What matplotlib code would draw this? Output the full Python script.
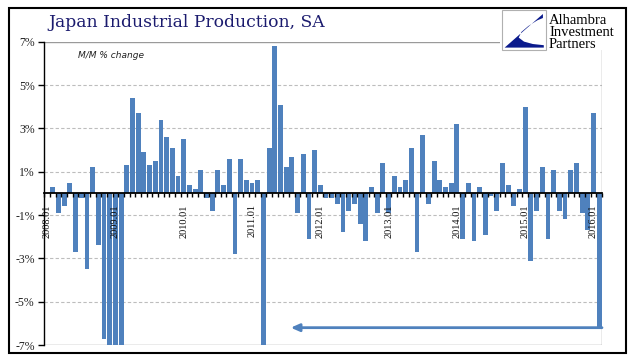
import matplotlib.pyplot as plt
from matplotlib.patches import Rectangle, Polygon
import numpy as np

# monthly m/m % change, 2008.01 - 2016.02 (first month has no value)
months = [f"{y}.{m:02d}" for y in range(2008, 2017) for m in range(1, 13)][:98]
values = [
    np.nan, 0.3, -0.9, -0.6, 0.5, -2.7, -0.2, -3.5, 1.2, -2.4, -6.7, -8.5,
    -10.2, -9.4, 1.3, 4.4, 3.7, 1.9, 1.3, 1.5, 3.4, 2.6, 2.1, 0.8,
    2.5, 0.4, 0.2, 1.1, -0.2, -0.8, 1.1, 0.4, 1.6, -2.8, 1.6, 0.6,
    0.5, 0.6, -15.5, 2.1, 6.8, 4.1, 1.2, 1.7, -0.9, 1.8, -2.1, 2.0,
    0.4, -0.2, -0.2, -0.5, -1.8, -0.8, -0.5, -1.4, -2.2, 0.3, -0.9, 1.4,
    -0.9, 0.8, 0.3, 0.6, 2.1, -2.7, 2.7, -0.5, 1.5, 0.6, 0.3, 0.5,
    3.2, -2.1, 0.5, -2.2, 0.3, -1.9, -0.1, -0.8, 1.4, 0.4, -0.6, 0.2,
    4.0, -3.1, -0.8, 1.2, -2.1, 1.1, -0.8, -1.2, 1.1, 1.4, -0.9, -1.7,
    3.7, -6.2,
]
y_ticks = [-7, -5, -3, -1, 1, 3, 5, 7]
label_every = 12

BLUE = '#4F81BD'
NAVY = '#1B1B6E'
W, H = 641, 361


def px(x, y):
    # pixel position (from top left) -> figure fraction
    return x / W, 1 - y / H


fig = plt.figure(figsize=(W / 100, H / 100), dpi=100)
ax = fig.add_axes([44.3 / W, 1 - 345 / H, (602 - 44.3) / W, (345 - 41.7) / H])

x = np.arange(len(values))
ax.bar(x, values, width=0.85, color=BLUE, zorder=1)

ax.set_xlim(-0.5, len(values) - 0.5)
ax.set_ylim(-7, 7)

# dashed grid behind the bars, solid grey frame at +-7
for v in y_ticks[1:-1]:
    ax.axhline(v, color='#BDBDBD', lw=0.8, ls=(0, (3, 2)), zorder=0)
for v in (y_ticks[0], y_ticks[-1]):
    ax.axhline(v, color='#9A9A9A', lw=1, zorder=0.5)
ax.axvline(len(values) - 0.5, color='#9A9A9A', lw=1, zorder=0.5)

for s in ('top', 'right'):
    ax.spines[s].set_visible(False)
ax.spines['left'].set_color('black')
ax.spines['left'].set_linewidth(1.0)
ax.spines['bottom'].set_position(('data', 0))
ax.spines['bottom'].set_color('black')
ax.spines['bottom'].set_linewidth(1.3)

ax.set_yticks(y_ticks)
ax.set_yticklabels([f"{v}%" for v in y_ticks], fontfamily='Liberation Serif',
                   fontsize=8.5, color='#222222')
ax.tick_params(axis='y', direction='out', length=4, width=1, color='black', pad=3)

lab_pos = x[::label_every]
ax.set_xticks(lab_pos)
ax.set_xticklabels(months[::label_every], rotation=90, fontfamily='Liberation Serif',
                   fontsize=7.5, color='#111111')
ax.tick_params(axis='x', which='major', length=0, pad=8)
ax.set_xticks(np.arange(len(values) + 1) - 0.5, minor=True)
ax.tick_params(axis='x', which='minor', direction='out', length=3, width=1, color='black')

ax.annotate('', xy=(42.8, values[-1]), xytext=(len(values) - 0.5, values[-1]),
            arrowprops=dict(arrowstyle='-|>,head_length=0.5,head_width=0.22',
                            color=BLUE, lw=2, shrinkA=0, shrinkB=0), zorder=3)

fig.text(*px(48, 27), 'Japan Industrial Production, SA', fontfamily='DejaVu Serif',
         fontsize=12.3, color=NAVY, va='baseline', ha='left')
fig.text(*px(78, 56), 'M/M % change', fontstyle='italic', fontsize=6.5,
         color='#222222', va='center', ha='left')

# logo block over the top right corner of the frame
fig.add_artist(Rectangle(px(500, 50), 125 / W, 42 / H, transform=fig.transFigure,
                         facecolor='white', edgecolor='none', zorder=5))
fig.add_artist(Rectangle(px(502, 50), 44 / W, 40 / H, transform=fig.transFigure,
                         facecolor='white', edgecolor='#B0B0B0', lw=0.8, zorder=6))
shape = [(0.93, 0.90), (0.06, 0.06), (0.95, 0.06), (0.95, 0.12), (0.70, 0.15),
         (0.50, 0.21), (0.38, 0.31), (0.44, 0.45), (0.60, 0.60), (0.80, 0.74),
         (0.93, 0.80)]
shape = [px(502 + 44 * a, 50 - 40 * b) for a, b in shape]
fig.add_artist(Polygon(shape, closed=True, transform=fig.transFigure,
                       facecolor='#0A1A8C', edgecolor='none', zorder=7))
fig.text(*px(549, 48), 'Alhambra\nInvestment\nPartners', fontfamily='Liberation Serif',
         fontsize=10.5, linespacing=0.92, color='black', va='baseline', ha='left',
         zorder=7)

# outer border
fig.add_artist(Rectangle(px(8.5, 353), (626 - 8.5) / W, (353 - 7.5) / H,
                         transform=fig.transFigure, fill=False, edgecolor='black',
                         lw=1.5, zorder=8))

fig.savefig('out.png', dpi=100)
